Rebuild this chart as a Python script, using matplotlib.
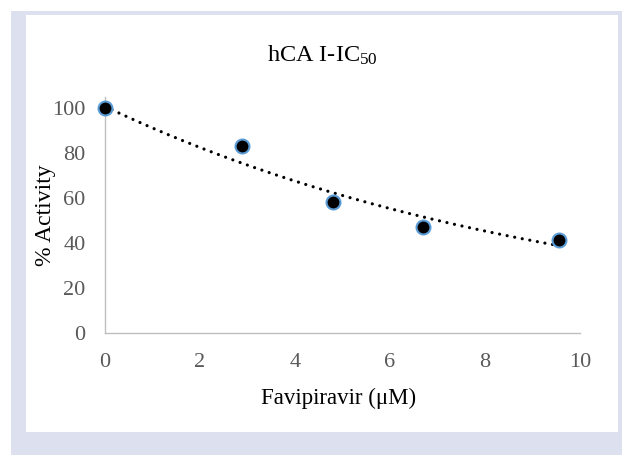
import numpy as np
import matplotlib
matplotlib.use("Agg")
import matplotlib.pyplot as plt
from matplotlib.patches import Rectangle

plt.rcParams['font.family'] = ['Liberation Serif', 'DejaVu Serif']
plt.rcParams['mathtext.fontset'] = 'custom'
plt.rcParams['mathtext.rm'] = 'Liberation Serif'
plt.rcParams['mathtext.it'] = 'Liberation Serif:italic'

# data
concentration = [0.0, 2.88, 4.79, 6.70, 9.56]
activity = [100.0, 83.1, 58.4, 47.2, 41.3]
x_ticks = [0, 2, 4, 6, 8, 10]
y_ticks = [0, 20, 40, 60, 80, 100]
title = "hCA I-IC$_{50}$"
x_label = "Favipiravir (μM)"
y_label = "% Activity"

W, H = 622, 455
fig = plt.figure(figsize=(W / 100, H / 100), dpi=100)
fig.patch.set_facecolor('white')

def fx(px):
    return px / W

def fy(py):
    return 1 - py / H

# frame
fig.patches.append(Rectangle((fx(11), fy(455)), fx(622) - fx(11), fy(11) - fy(455),
                             transform=fig.transFigure, facecolor='#DCE0EF',
                             edgecolor='none', zorder=-10))
fig.patches.append(Rectangle((fx(26), fy(432)), fx(618) - fx(26), fy(15) - fy(432),
                             transform=fig.transFigure, facecolor='white',
                             edgecolor='none', zorder=-9))

ax = fig.add_axes([fx(105), fy(332.5), fx(580) - fx(105), fy(97) - fy(332.5)])
ax.set_facecolor('none')
ax.set_xlim(0, 10)
ax.set_ylim(0, 105)

# exponential trendline fitted to the data
c = np.array(concentration)
a = np.array(activity)
b1, b0 = np.polyfit(c, np.log(a), 1)
xt = np.linspace(c.min(), c.max(), 200)
ax.plot(xt, np.exp(b0 + b1 * xt), color='black', lw=2.3,
        linestyle=(0, (0.01, 2.4)), dash_capstyle='round', zorder=2, clip_on=False)

ax.plot(concentration, activity, linestyle='none', marker='o', markersize=10,
        markerfacecolor='black', markeredgecolor='#5B9BD5', markeredgewidth=1.5,
        zorder=3, clip_on=False)

for s in ['top', 'right']:
    ax.spines[s].set_visible(False)
for s in ['left', 'bottom']:
    ax.spines[s].set_color('#BFBFBF')
    ax.spines[s].set_linewidth(1.0)

ax.set_xticks(x_ticks)
ax.set_yticks(y_ticks)
ax.tick_params(axis='both', length=0, labelsize=16, labelcolor='#595959')
ax.tick_params(axis='x', pad=14.5)
ax.tick_params(axis='y', pad=14)

fig.text(fx(322), fy(55.5), title, ha='center', va='center', fontsize=17.5, color='black')
fig.text(fx(339), fy(398), x_label, ha='center', va='center', fontsize=16.5, color='black')
fig.text(fx(45), fy(215), y_label, ha='center', va='center', rotation=90,
         fontsize=17, color='black')

fig.savefig('out.png', dpi=100, facecolor='white')
